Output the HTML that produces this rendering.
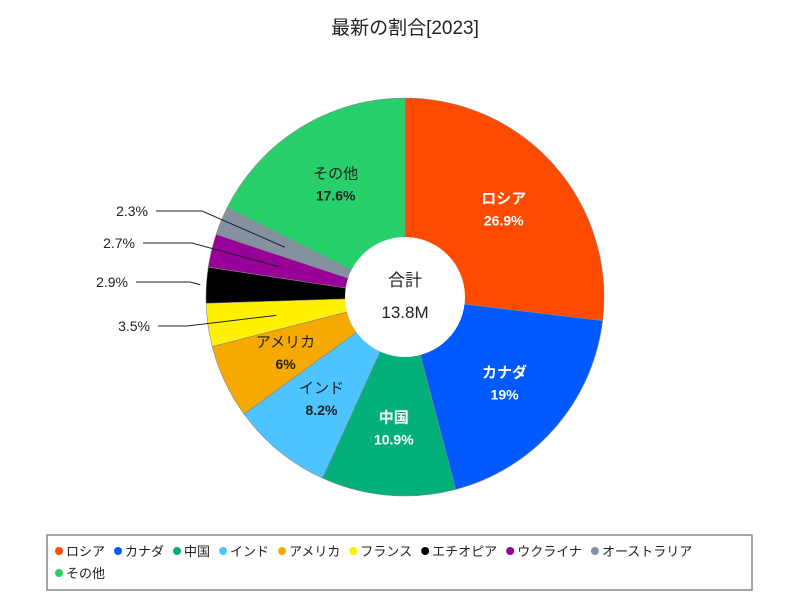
<!DOCTYPE html>
<html><head><meta charset="utf-8"><style>
body{margin:0;background:#fff;}
svg text{font-family:"Liberation Sans","Noto Sans CJK JP",sans-serif;}
</style></head><body>
<svg id="c" width="800" height="600" xmlns="http://www.w3.org/2000/svg">
<text x="405" y="34" text-anchor="middle" font-size="19" fill="#222">最新の割合[2023]</text>
<g id="slices"></g><g id="labels"></g>
<circle cx="405" cy="297" r="60" fill="#fff"/>
<text x="405" y="286" text-anchor="middle" font-size="17" fill="#222">合計</text>
<text x="405" y="318" text-anchor="middle" font-size="17" fill="#222">13.8M</text>
<rect x="47" y="535" width="705" height="55" fill="#fff" stroke="#888" stroke-width="1.5"/>
<g id="legend"></g>
</svg>
<script>
const categories=["ロシア","カナダ","中国","インド","アメリカ","フランス","エチオピア","ウクライナ","オーストラリア","その他"];
const values=[26.9,19,10.9,8.2,6,3.5,2.9,2.7,2.3,17.6];
const valueLabels=["26.9%","19%","10.9%","8.2%","6%","3.5%","2.9%","2.7%","2.3%","17.6%"];
const colors=["#ff4b00","#005aff","#03af7a","#4dc4ff","#f6aa00","#fff100","#000000","#990099","#84919e","#27d06b"];
const textColors=["#fff","#fff","#fff","#222","#222",null,null,null,null,"#222"];
const NS="http://www.w3.org/2000/svg";
const cx=405,cy=297,R=199,r0=60;
const sg=document.getElementById('slices'),lg=document.getElementById('labels'),leg=document.getElementById('legend');
function mk(t,a,p){const e=document.createElementNS(NS,t);for(const k in a)e.setAttribute(k,a[k]);p.appendChild(e);return e;}
function pt(a,rad){return [cx+rad*Math.sin(a),cy-rad*Math.cos(a)];}
const total=values.reduce((s,v)=>s+v,0);
let acc=0;
const outside={5:{y:326,tx:150,hx:187},6:{y:282,tx:128,hx:190},7:{y:243,tx:135,hx:192},8:{y:211,tx:148,hx:202}};
values.forEach((v,i)=>{
 const a0=acc/total*2*Math.PI;acc+=v;const a1=acc/total*2*Math.PI;
 const [x0,y0]=pt(a0,R),[x1,y1]=pt(a1,R);
 const p=mk('path',{d:`M${cx},${cy}L${x0},${y0}A${R},${R} 0 ${a1-a0>Math.PI?1:0} 1 ${x1},${y1}Z`,fill:colors[i],stroke:"#888","stroke-width":0.6},sg);
 
 
 const am=(a0+a1)/2;
 if(textColors[i]){
  const [lx,ly]=pt(am,132);
  const t1=mk('text',{x:lx,y:ly-6,"text-anchor":"middle","font-size":15,fill:textColors[i],"font-weight":textColors[i]=="#fff"?"bold":"normal"},lg);
  t1.textContent=categories[i];
  
  
  const t2=mk('text',{x:lx,y:ly+16,"text-anchor":"middle","font-size":14,fill:textColors[i],"font-weight":"bold"},lg);
  t2.textContent=valueLabels[i];
  
  
 } else {
  const o=outside[i];const [px,py]=pt(am,i==6?205:130);
  const l=mk('polyline',{points:`${o.tx+8},${o.y} ${o.hx},${o.y} ${px},${py}`,fill:"none",stroke:"#222","stroke-width":1},lg);
  
  
  const t=mk('text',{x:o.tx,y:o.y+5,"text-anchor":"end","font-size":14,fill:"#222"},lg);
  t.textContent=valueLabels[i];
  
  
 }
});
// legend
let lx=55,ly=551;
const cw=[52,50,40,52,64,64,70,70,88,50];
categories.forEach((c,i)=>{
 if(lx+cw[i]*1.0>750){lx=55;ly+=22;}
 const d=mk('circle',{cx:lx+4,cy:ly,r:4,fill:colors[i]},leg);
 
 
 const t=mk('text',{x:lx+11,y:ly+5,"font-size":13,fill:"#222"},leg);
 t.textContent=c;
 
 
 const w=t.getComputedTextLength?t.getComputedTextLength():cw[i];
 lx+=w+20;
});
</script>
</body></html>
